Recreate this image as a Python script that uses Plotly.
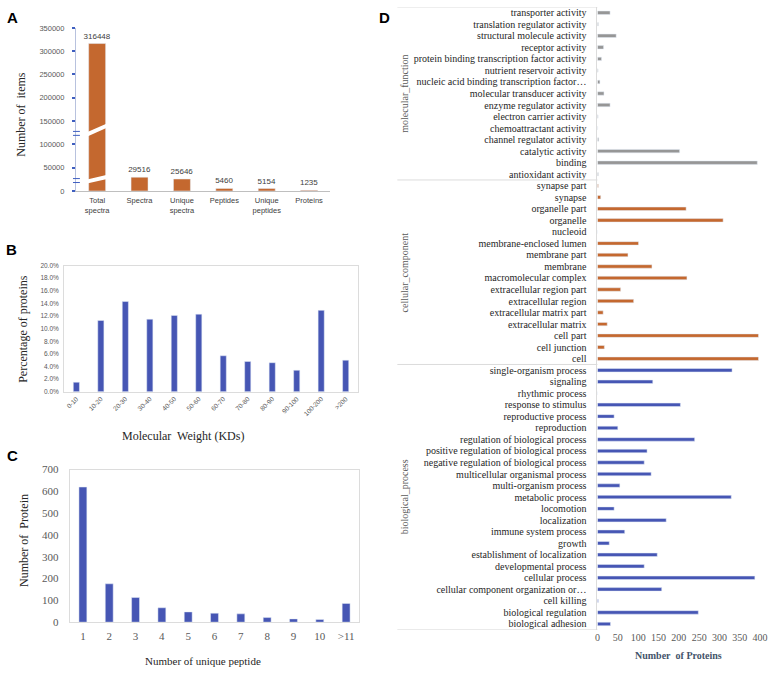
import plotly.graph_objects as go

W, H = 777, 675

# ---------------- data ----------------
a_categories = ["Total<br>spectra", "Spectra", "Unique<br>spectra", "Peptides", "Unique<br>peptides", "Proteins"]
a_values = [316448, 29516, 25646, 5460, 5154, 1235]

b_categories = ["0-10", "10-20", "20-30", "30-40", "40-50", "50-60", "60-70",
                "70-80", "80-90", "90-100", "100-200", ">200"]
b_values = [0.015, 0.113, 0.143, 0.115, 0.121, 0.123, 0.057, 0.048, 0.046, 0.034, 0.129, 0.050]

c_categories = ["1", "2", "3", "4", "5", "6", "7", "8", "9", "10", ">11"]
c_values = [620, 176, 113, 66, 47, 41, 38, 21, 15, 12, 86]

mf_terms = ["transporter activity", "translation regulator activity", "structural molecule activity",
            "receptor activity", "protein binding transcription factor activity",
            "nutrient reservoir activity", "nucleic acid binding transcription factor…",
            "molecular transducer activity", "enzyme regulator activity", "electron carrier activity",
            "chemoattractant activity", "channel regulator activity", "catalytic activity",
            "binding", "antioxidant activity"]
mf_counts = [31, 2, 46, 15, 10, 1.5, 6, 16, 31, 1.5, 0.5, 3, 202, 393, 2]

cc_terms = ["synapse part", "synapse", "organelle part", "organelle", "nucleoid",
            "membrane-enclosed lumen", "membrane part", "membrane", "macromolecular complex",
            "extracellular region part", "extracellular region", "extracellular matrix part",
            "extracellular matrix", "cell part", "cell junction", "cell"]
cc_counts = [2, 8, 218, 309, 0, 101, 75, 134, 220, 57, 89, 14, 24, 396, 17, 396]

bp_terms = ["single-organism process", "signaling", "rhythmic process", "response to stimulus",
            "reproductive process", "reproduction", "regulation of biological process",
            "positive regulation of biological process", "negative regulation of biological process",
            "multicellular organismal process", "multi-organism process", "metabolic process",
            "locomotion", "localization", "immune system process", "growth",
            "establishment of localization", "developmental process", "cellular process",
            "cellular component organization or…", "cell killing", "biological regulation",
            "biological adhesion"]
bp_counts = [331, 136, 0, 204, 41, 50, 239, 122, 115, 132, 55, 329, 41, 169, 67, 29,
             147, 115, 387, 158, 2, 248, 32]

group_names = ["molecular_function", "cellular_component", "biological_process"]

all_terms = mf_terms + cc_terms + bp_terms

# ---------------- styling ----------------
ORANGE = "#C4682F"
BLUE = "#4656B4"
GRAY = "#969696"
SERIF = "Liberation Serif, Times New Roman, serif"
SANS = "Liberation Sans, Arial, sans-serif"


def px(x):
    return x / W


def py(y):
    return 1 - y / H


fig = go.Figure()

fig.add_trace(go.Bar(x=a_categories, y=a_values, marker_color=ORANGE, width=0.4,
                     text=[str(v) for v in a_values], textposition="outside",
                     constraintext="none",
                     textfont=dict(family=SANS, size=8, color="#404040"),
                     cliponaxis=False, xaxis="x", yaxis="y", showlegend=False))

fig.add_trace(go.Bar(x=b_categories, y=b_values, marker_color=BLUE, width=0.25,
                     xaxis="x2", yaxis="y2", showlegend=False))

fig.add_trace(go.Bar(x=c_categories, y=c_values, marker_color=BLUE, width=0.3,
                     xaxis="x3", yaxis="y3", showlegend=False))

for terms, counts, col in [(mf_terms, mf_counts, GRAY), (cc_terms, cc_counts, ORANGE),
                           (bp_terms, bp_counts, BLUE)]:
    fig.add_trace(go.Bar(y=terms, x=counts, orientation="h", marker_color=col, width=0.3,
                         xaxis="x4", yaxis="y4", showlegend=False))

tick_gray = "#595959"

layout = dict(
    width=W, height=H, margin=dict(l=0, r=0, t=0, b=0),
    paper_bgcolor="white", plot_bgcolor="white", barmode="overlay",
    # Panel A
    xaxis=dict(domain=[px(74), px(332)], anchor="y", type="category", showline=True,
               linecolor="#bfbfbf", ticks="", showgrid=False, ticklabelstandoff=2,
               tickfont=dict(family=SANS, size=7.5, color="#404040")),
    yaxis=dict(domain=[py(188.3), py(22.3)], anchor="x", range=[0, 350000], dtick=50000,
               tickformat="d", showgrid=False, zeroline=False, showline=True,
               linecolor="#b8c2de", ticks="outside", ticklen=3, tickwidth=1.5,
               tickcolor="#3f5fc0", ticklabelstandoff=6,
               tickfont=dict(family=SANS, size=7.5, color=tick_gray)),
    # Panel B
    xaxis2=dict(domain=[px(62), px(360)], anchor="y2", type="category", showline=True,
                mirror=True, linecolor="#dcdcdc", ticks="", showgrid=False, tickangle=-45,
                tickfont=dict(family=SANS, size=6.5, color=tick_gray)),
    yaxis2=dict(domain=[py(392.7), py(264.3)], anchor="x2", range=[0, 0.2], dtick=0.02,
                tickformat=".1%", showgrid=False, zeroline=False, showline=True, mirror=True,
                linecolor="#dcdcdc", ticks="", ticklabelstandoff=3,
                tickfont=dict(family=SANS, size=6.5, color=tick_gray)),
    # Panel C
    xaxis3=dict(domain=[px(67.7), px(361.4)], anchor="y3", type="category", showline=True,
                mirror=True, linecolor="#dcdcdc", ticks="", showgrid=False,
                ticklabelstandoff=4,
                tickfont=dict(family=SERIF, size=11, color=tick_gray)),
    yaxis3=dict(domain=[py(627.3), py(472)], anchor="x3", range=[0, 700], dtick=100,
                showgrid=False, zeroline=False, showline=True, mirror=True,
                linecolor="#dcdcdc", ticks="", ticklabelstandoff=8,
                tickfont=dict(family=SERIF, size=11, color=tick_gray)),
    # Panel D
    xaxis4=dict(domain=[px(603), px(768)], anchor="y4", range=[0, 400], dtick=50,
                showline=False, showgrid=False, zeroline=False, ticks="",
                tickfont=dict(family=SERIF, size=10, color=tick_gray)),
    yaxis4=dict(domain=[py(635), py(1)], anchor="x4", type="category",
                categoryorder="array", categoryarray=all_terms, range=[len(all_terms) - 0.5, -0.5],
                tickmode="array", tickvals=all_terms, showline=True, linecolor="#dcdcdc",
                showgrid=False, ticks="", ticklabelstandoff=8,
                tickfont=dict(family=SERIF, size=10, color="#262626")),
)
fig.update_layout(**layout)

shapes = []
# broken-bar slashes on the tall bar (panel A)
for y0, y1 in [(121000, 141000), (20000, 30500)]:
    shapes.append(dict(type="line", xref="x", yref="y", x0=-0.25, x1=0.25, y0=y0, y1=y1,
                       line=dict(color="white", width=4)))
# axis break marks (panel A)
for yv in [127800, 119300, 26600, 18100]:
    shapes.append(dict(type="line", xref="paper", yref="y", x0=px(71), x1=px(78), y0=yv, y1=yv,
                       line=dict(color="#3f5fc0", width=1)))
# group separators (panel D)
n_mf, n_cc = len(mf_terms), len(cc_terms)
for b in [-0.5, n_mf - 0.5, n_mf + n_cc - 0.5, len(all_terms) - 0.5]:
    shapes.append(dict(type="line", xref="paper", yref="y4", x0=px(400), x1=px(603), y0=b, y1=b,
                       line=dict(color="#dcdcdc", width=1)))
fig.update_layout(shapes=shapes)

ann = []


def add_text(text, x, y, size, family=SERIF, color="#262626", angle=0, bold=False):
    ann.append(dict(text=f"<b>{text}</b>" if bold else text, x=px(x), y=py(y), xref="paper",
                    yref="paper", showarrow=False, xanchor="center", yanchor="middle",
                    textangle=angle, font=dict(family=family, size=size, color=color)))


for lab, x, y in [("A", 10, 12), ("B", 9, 248), ("C", 10, 458), ("D", 387, 12)]:
    add_text(lab, x, y, 15, family=SANS, color="black", bold=True)

add_text("Number of&nbsp; items", 18, 110, 12, angle=-90)
add_text("Percentage of proteins", 20, 329, 12, angle=-90)
add_text("Molecular&nbsp; Weight (KDs)", 183, 438, 12)
add_text("Number of&nbsp; Protein", 22, 544, 12, angle=-90)
add_text("Number of unique peptide", 203, 667, 11)

# group labels panel D (centered on their category blocks)
group_bounds = [(0, n_mf), (n_mf, n_mf + n_cc), (n_mf + n_cc, len(all_terms))]
for name, (s, e) in zip(group_names, group_bounds):
    ann.append(dict(text=name, x=px(407), y=(s + e - 1) / 2, xref="paper", yref="y4",
                    showarrow=False, xanchor="center", yanchor="middle", textangle=-90,
                    font=dict(family=SERIF, size=10, color=tick_gray)))

add_text("Number&nbsp; of Proteins", 685, 661, 10, color="#44546A", bold=True)

fig.update_layout(annotations=ann)

fig.write_html("out.html", config={"displayModeBar": False},
               post_script="document.body.style.margin='0';document.body.style.overflow='hidden';")
